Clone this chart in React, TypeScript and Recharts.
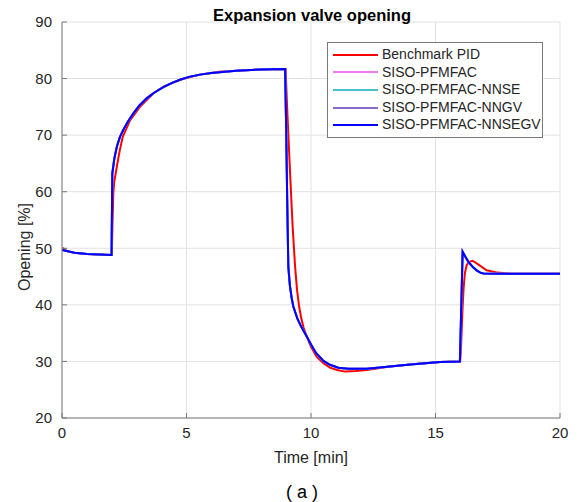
import React from 'react';
import { LineChart, Line, XAxis, YAxis, CartesianGrid, Legend } from 'recharts';

const pidTime = [0, 0.05, 0.2, 0.5, 1, 1.5, 1.97, 2.0, 2.03, 2.06, 2.1, 2.2, 2.32, 2.44, 2.73, 3.13, 3.67, 4.1, 4.74, 5.54, 6.3, 7, 8, 8.98, 9.05, 9.16, 9.26, 9.36, 9.44, 9.52, 9.6, 9.7, 9.83, 10.0, 10.23, 10.5, 10.76, 11.05, 11.37, 11.8, 12.24, 13.17, 14.1, 15.18, 15.99, 16.03, 16.06, 16.09, 16.13, 16.18, 16.25, 16.35, 16.49, 16.7, 17.05, 17.5, 18, 19, 20];
const pidOpening = [49.9, 50.0, 49.5, 49.2, 49.0, 48.9, 48.8, 48.8, 55.0, 59.7, 61.8, 64.4, 67.3, 69.7, 72.6, 75.0, 77.4, 78.6, 79.8, 80.7, 81.2, 81.4, 81.6, 81.7, 74.0, 63.3, 54.0, 46.8, 42.6, 39.8, 37.8, 36.0, 34.4, 32.6, 30.8, 29.7, 28.9, 28.5, 28.2, 28.3, 28.5, 29.1, 29.5, 29.9, 30.0, 33.0, 36.5, 39.7, 43.0, 45.6, 47.0, 47.6, 47.8, 47.2, 46.1, 45.7, 45.5, 45.5, 45.5];

const sisoTime = [0, 0.5, 1, 1.5, 1.97, 1.99, 2.02, 2.1, 2.2, 2.32, 2.46, 2.65, 2.86, 3.1, 3.4, 3.7, 4.07, 4.4, 4.74, 5.1, 5.54, 6, 7, 8, 8.96, 9.0, 9.05, 9.09, 9.15, 9.22, 9.29, 9.45, 9.6, 9.83, 10.0, 10.2, 10.5, 10.76, 11.1, 11.5, 12.24, 13.17, 14.1, 15.18, 15.98, 16.09, 16.2, 16.32, 16.5, 16.65, 16.8, 16.92, 17.5, 18, 19, 20];
const sisoOpening = [49.7, 49.2, 49.0, 48.9, 48.8, 48.8, 63.2, 65.8, 67.9, 69.6, 70.9, 72.4, 73.8, 75.2, 76.5, 77.5, 78.5, 79.2, 79.8, 80.3, 80.7, 81.0, 81.4, 81.6, 81.7, 72.0, 57.0, 46.7, 43.5, 41.3, 39.7, 37.6, 36.2, 34.4, 33.0, 31.5, 30.1, 29.4, 28.9, 28.7, 28.7, 29.1, 29.5, 29.9, 30.0, 49.4, 48.5, 47.6, 46.7, 46.1, 45.7, 45.55, 45.5, 45.5, 45.5, 45.5];

const seriesNames = ['Benchmark PID', 'SISO-PFMFAC', 'SISO-PFMFAC-NNSE', 'SISO-PFMFAC-NNGV', 'SISO-PFMFAC-NNSEGV'];
const seriesColors = ['#ff0000', '#f27cf0', '#4fc0c8', '#8a6acb', '#0000ff'];

const xTicks = [0, 5, 10, 15, 20];
const yTicks = [20, 30, 40, 50, 60, 70, 80, 90];

const titleText = 'Expansion valve opening';
const xLabel = 'Time [min]';
const yLabel = 'Opening [%]';
const captionText = '( a )';

const toPoints = (t: number[], v: number[]) => t.map((x, i) => ({ t: x, v: v[i] }));
const pidData = toPoints(pidTime, pidOpening);
const sisoData = toPoints(sisoTime, sisoOpening);
const seriesData = [pidData, sisoData, sisoData, sisoData, sisoData];

const FONT = "'Liberation Sans', Arial, Helvetica, sans-serif";
const FRAME = '#7a7a7a';

const LegendBox = () => (
  <div
    style={{
      border: `1px solid ${FRAME}`,
      background: '#fff',
      padding: '3px 0 3px 0',
      boxSizing: 'border-box',
      width: 216,
      fontFamily: FONT,
      fontSize: 14,
      color: '#262626',
    }}
  >
    {seriesNames.map((name, i) => (
      <div key={name} style={{ display: 'flex', alignItems: 'center', height: 17.6, lineHeight: '17.6px' }}>
        <svg width={54} height={10} style={{ flex: 'none' }}>
          <line x1={5} y1={5} x2={50} y2={5} stroke={seriesColors[i]} strokeWidth={2} />
        </svg>
        <span style={{ whiteSpace: 'nowrap' }}>{name}</span>
      </div>
    ))}
  </div>
);

export default function App() {
  const tickStyle = { fill: '#262626', fontSize: 15, fontFamily: FONT };
  return (
    <div style={{ position: 'absolute', left: 0, top: 0, width: 579, height: 502, background: '#fff' }}>
      <LineChart width={579} height={502} margin={{ top: 22, right: 19, bottom: 0, left: 0 }}>
        <CartesianGrid stroke="#e3e3e3" strokeWidth={1} />
        <XAxis
          dataKey="t"
          type="number"
          domain={[0, 20]}
          ticks={xTicks}
          allowDataOverflow
          height={84}
          tickSize={-5}
          tickMargin={14}
          stroke={FRAME}
          tick={tickStyle}
          interval={0}
        />
        <XAxis
          xAxisId="top"
          orientation="top"
          type="number"
          domain={[0, 20]}
          ticks={xTicks}
          allowDataOverflow
          height={0}
          tickSize={-5}
          tick={false}
          stroke={FRAME}
        />
        <YAxis
          type="number"
          domain={[20, 90]}
          ticks={yTicks}
          allowDataOverflow
          width={62}
          tickSize={-5}
          tickMargin={15}
          stroke={FRAME}
          tick={tickStyle}
          interval={0}
        />
        <YAxis
          yAxisId="right"
          orientation="right"
          type="number"
          domain={[20, 90]}
          ticks={yTicks}
          allowDataOverflow
          width={0}
          tickSize={-5}
          tick={false}
          stroke={FRAME}
        />
        {seriesNames.map((name, i) => (
          <Line
            key={name}
            data={seriesData[i]}
            dataKey="v"
            name={name}
            type="linear"
            stroke={seriesColors[i]}
            strokeWidth={2}
            dot={false}
            activeDot={false}
            isAnimationActive={false}
          />
        ))}
        <Legend
          layout="vertical"
          align="center"
          verticalAlign="middle"
          content={<LegendBox />}
          wrapperStyle={{ position: 'absolute', left: 327, top: 42, width: 216, height: 94 }}
        />
      </LineChart>
      <svg
        width={579}
        height={502}
        style={{ position: 'absolute', left: 0, top: 0, pointerEvents: 'none' }}
      >
        <text x={312} y={20.5} textAnchor="middle" fontFamily={FONT} fontSize={16.5} fontWeight="bold" fill="#000">
          {titleText}
        </text>
        <text x={311} y={463} textAnchor="middle" fontFamily={FONT} fontSize={16} fill="#262626">
          {xLabel}
        </text>
        <text
          x={0}
          y={0}
          textAnchor="middle"
          fontFamily={FONT}
          fontSize={16}
          fill="#262626"
          transform="translate(29.5 247) rotate(-90)"
        >
          {yLabel}
        </text>
        <text x={302} y={498} textAnchor="middle" fontFamily={FONT} fontSize={18} fill="#000">
          {captionText}
        </text>
      </svg>
    </div>
  );
}
